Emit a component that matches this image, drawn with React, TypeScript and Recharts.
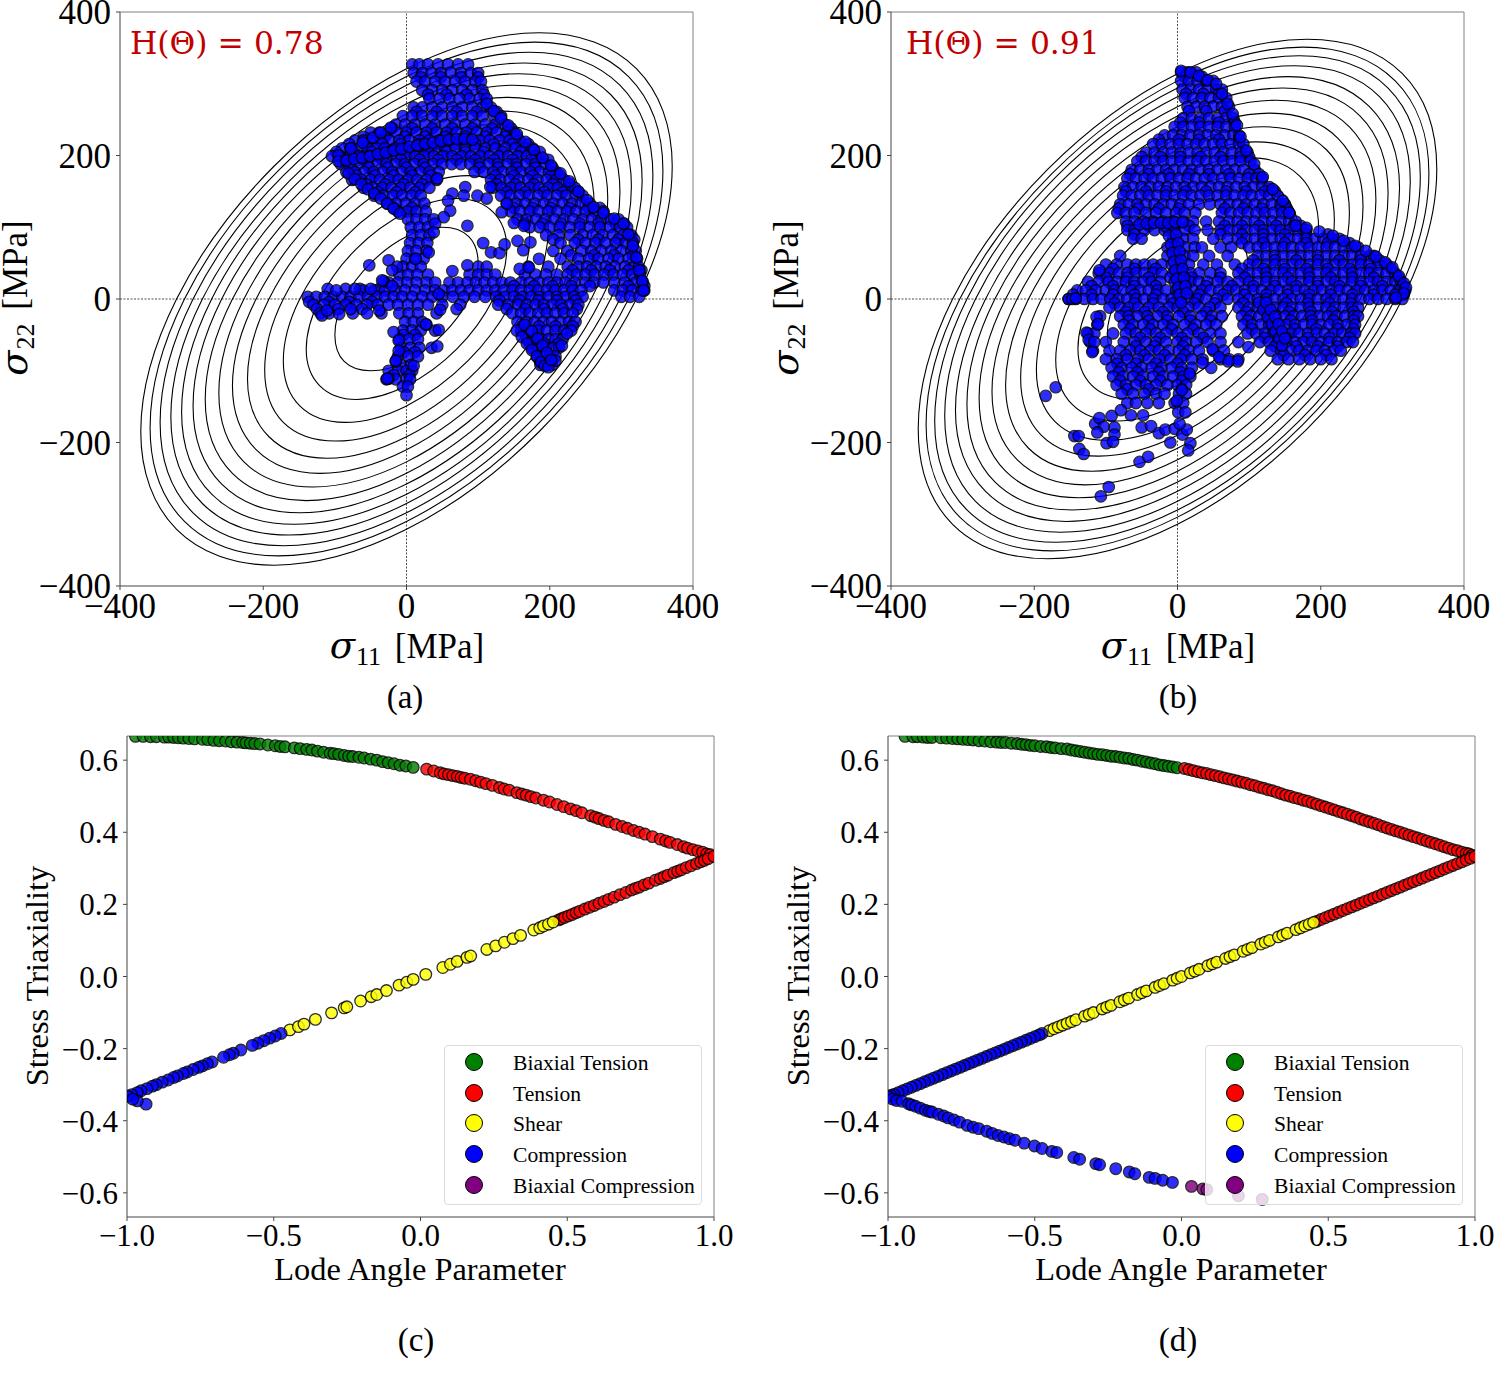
import React from 'react';
import { ComposedChart, Line, Scatter, XAxis, YAxis, ReferenceLine, Legend } from 'recharts';

const SERIF = '"Liberation Serif", serif';
const stressTicks = [-400, -200, 0, 200, 400];
const lodeTicks = [-1, -0.5, 0, 0.5, 1];
const triaxTicks = [-0.6, -0.4, -0.2, 0, 0.2, 0.4, 0.6];
const legendNames = ['Biaxial Tension', 'Tension', 'Shear', 'Compression', 'Biaxial Compression'];
const legendColors = ['#008000', '#ff0000', '#ffff00', '#0000ff', '#800080'];

// yield contours, read as x,y pairs going round each ring
const ringsA = [
  [87,87,100,50,87,0,50,-50,0,-87,-50,-100,-87,-87,-100,-50,-87,0,-50,50,0,87,50,100],
  [121,121,140,70,121,0,70,-70,0,-121,-70,-140,-121,-121,-140,-70,-121,0,-70,70,0,121,70,140],
  [149,149,172,86,149,0,86,-86,0,-149,-86,-172,-149,-149,-172,-86,-149,0,-86,86,0,149,86,172],
  [172,172,198,99,172,0,99,-99,0,-172,-99,-198,-172,-172,-198,-99,-172,0,-99,99,0,172,99,198],
  [192,192,222,111,192,0,111,-111,0,-192,-111,-222,-192,-192,-222,-111,-192,0,-111,111,0,192,111,222],
  [210,210,243,121,210,0,121,-121,0,-210,-121,-243,-210,-210,-243,-121,-210,0,-121,121,0,210,121,243],
  [227,227,262,131,227,0,131,-131,0,-227,-131,-262,-227,-227,-262,-131,-227,0,-131,131,0,227,131,262],
  [243,243,281,140,243,0,140,-140,0,-243,-140,-281,-243,-243,-281,-140,-243,0,-140,140,0,243,140,281],
  [258,258,298,149,258,0,149,-149,0,-258,-149,-298,-258,-258,-298,-149,-258,0,-149,149,0,258,149,298],
  [272,272,314,157,272,0,157,-157,0,-272,-157,-314,-272,-272,-314,-157,-272,0,-157,157,0,272,157,314],
  [285,285,329,164,285,0,164,-164,0,-285,-164,-329,-285,-285,-329,-164,-285,0,-164,164,0,285,164,329],
  [298,298,344,172,298,0,172,-172,0,-298,-172,-344,-298,-298,-344,-172,-298,0,-172,172,0,298,172,344],
  [310,310,358,179,310,0,179,-179,0,-310,-179,-358,-310,-310,-358,-179,-310,0,-179,179,0,310,179,358],
  [321,321,371,185,321,0,185,-185,0,-321,-185,-371,-321,-321,-371,-185,-321,0,-185,185,0,321,185,371],
];
const ringsB = [
  [85,85,98,49,85,0,49,-49,0,-85,-49,-98,-85,-85,-98,-49,-85,0,-49,49,0,85,49,98],
  [120,120,139,69,120,0,69,-69,0,-120,-69,-139,-120,-120,-139,-69,-120,0,-69,69,0,120,69,139],
  [147,147,170,85,147,0,85,-85,0,-147,-85,-170,-147,-147,-170,-85,-147,0,-85,85,0,147,85,170],
  [171,171,197,99,171,0,99,-99,0,-171,-99,-197,-171,-171,-197,-99,-171,0,-99,99,0,171,99,197],
  [190,190,219,110,190,0,110,-110,0,-190,-110,-219,-190,-190,-219,-110,-190,0,-110,110,0,190,110,219],
  [208,208,240,120,208,0,120,-120,0,-208,-120,-240,-208,-208,-240,-120,-208,0,-120,120,0,208,120,240],
  [224,224,259,129,224,0,129,-129,0,-224,-129,-259,-224,-224,-259,-129,-224,0,-129,129,0,224,129,259],
  [240,240,277,138,240,0,138,-138,0,-240,-138,-277,-240,-240,-277,-138,-240,0,-138,138,0,240,138,277],
  [255,255,294,147,255,0,147,-147,0,-255,-147,-294,-255,-255,-294,-147,-255,0,-147,147,0,255,147,294],
  [268,268,310,155,268,0,155,-155,0,-268,-155,-310,-268,-268,-310,-155,-268,0,-155,155,0,268,155,310],
  [282,282,325,163,282,0,163,-163,0,-282,-163,-325,-282,-282,-325,-163,-282,0,-163,163,0,282,163,325],
  [294,294,339,170,294,0,170,-170,0,-294,-170,-339,-294,-294,-339,-170,-294,0,-170,170,0,294,170,339],
  [304,304,351,175,304,0,175,-175,0,-304,-175,-351,-304,-304,-351,-175,-304,0,-175,175,0,304,175,351],
  [314,314,362,181,314,0,181,-181,0,-314,-181,-362,-314,-314,-362,-181,-314,0,-181,181,0,314,181,362],
];

// stress points of (a), kept as [sigma22, [sigma11, ...]] rows
const cloudRowsA: [number, number[]][] = [
  [327, [8,18,30,44,58,72,86]],
  [315, [10,22,35,48,62,76,90,100]],
  [309, [20,48,76,100]],
  [303, [14,26,40,54,68,82,96,104]],
  [291, [22,36,50,64,78,92,106]],
  [285, [30,56,84,108]],
  [279, [32,46,60,74,88,102,112]],
  [267, [10,22,36,50,64,78,92,106,118]],
  [261, [14,42,70,98,126]],
  [255, [-5,8,22,36,50,64,78,92,106,122,132]],
  [243, [-15,-2,12,26,40,54,68,82,96,110,124,138]],
  [238, [-20,8,36,64,92,120,146]],
  [232, [-50,-38,-26,-14,0,14,28,42,56,70,84,98,112,126,140,150]],
  [226, [-60,-30,-2,26,54,82,110,138,154]],
  [221, [-72,-60,-48,-36,-24,-10,4,18,32,46,60,74,88,102,116,130,144,158]],
  [216, [-80,-58,-34,-8,18,44,70,96,122,148,170]],
  [210, [-90,-78,-66,-54,-42,-30,-16,-2,12,26,40,54,68,82,96,110,124,138,152,166,176]],
  [205, [-98,-74,-48,-22,4,30,56,82,108,134,160,186]],
  [199, [-104,-92,-79,-66,-53,-40,-27,-14,-1,12,25,38,51,64,77,90,103,116,129,142,155,168,181]],
  [194, [-86,-60,-34,-8,18,44,70,96,122,148,174,198]],
  [188, [-92,-80,-67,-54,-41,-28,-15,-2,11,24,37,50,63,76,89,102,115,128,141,154,167,180,193]],
  [183, [-78,-52,-26,0,26,102,128,154,180,204]],
  [177, [-84,-72,-59,-46,-33,-20,-7,6,19,32,45,95,108,121,134,147,160,173,186,199,209]],
  [172, [-70,-44,-18,8,34,124,150,176,202,214]],
  [166, [-76,-63,-50,-37,-24,-11,2,15,28,42,118,131,144,157,170,183,196,209,220]],
  [160, [-56,-30,-4,22,126,152,178,204,228]],
  [155, [-60,-47,-34,-21,-8,5,18,32,120,133,146,159,172,185,198,211,224,235]],
  [149, [-40,-14,12,140,166,192,218,240]],
  [144, [-45,-32,-19,-6,7,20,132,145,158,171,184,197,210,223,236,246]],
  [133, [-27,-14,-1,12,25,140,153,166,179,192,205,218,231,244,256]],
  [127, [-18,8,150,176,202,228,254,270]],
  [122, [-12,1,14,27,146,159,172,185,198,211,224,237,250,263,275]],
  [111, [2,14,26,38,155,168,181,194,207,220,233,246,259,272,285,296]],
  [105, [165,190,216,242,268,292,304]],
  [100, [6,18,30,172,186,200,214,228,242,256,270,284,298,308]],
  [89, [8,20,32,195,212,229,246,260,274,288,302,314]],
  [83, [205,240,268,296,318]],
  [78, [5,17,29,215,235,250,264,278,292,306,316]],
  [67, [2,14,28,205,225,245,258,272,286,300,314,320]],
  [61, [230,262,290,316]],
  [56, [0,12,24,185,215,240,255,268,282,296,310,322]],
  [45, [-5,8,20,100,112,170,198,225,240,252,265,278,291,305,318,324]],
  [40, [232,258,284,310,328]],
  [34, [-10,2,15,30,88,100,112,124,165,180,195,210,225,238,250,263,276,289,302,315,326]],
  [23, [-25,-12,1,14,28,40,60,72,85,97,109,121,133,145,160,172,185,198,210,222,235,250,262,275,290,305,320,330]],
  [18, [150,178,204,230,256,310,332]],
  [14, [-110,-85,-65,-38]],
  [12, [-60,-45,-30,-15,-2,12,26,40,52,64,76,88,100,112,124,136,148,160,172,184,196,208,220,232,244,290,302,315,328,332]],
  [3, [-138,-126,-114,-102,-90,-78,-66,-54,-42,-30,-18,-6,8,22,36,50,65,80,95,110,125,138,150,162,174,186,198,210,222,234,246,300,312,325]],
  [-2, [130,158,184,210,236]],
  [-4, [-136,-108,-80,-48]],
  [-8, [-130,-115,-100,-85,-70,-55,-40,-25,-12,2,16,30,50,75,128,142,156,168,180,192,204,216,228,240]],
  [-14, [-125,-95,-62,140,166,192,218,238]],
  [-20, [-120,-108,-75,-55,-35,-10,3,16,42,148,160,172,184,196,208,220,232]],
  [-32, [-2,10,22,155,167,179,191,203,215,227,236]],
  [-38, [162,185,208,232]],
  [-44, [-5,8,20,40,160,172,184,196,208,220,230]],
  [-50, [-4,12]],
  [-56, [-10,4,16,168,178,188,198,208,218]],
  [-62, [172,192,212]],
  [-68, [-8,5,18,175,185,195,205,213]],
  [-74, [-4,12]],
  [-80, [-12,3,16,182,192,200,208]],
  [-86, [186,200]],
  [-92, [-8,6,187,196,203]],
  [-100, [-25,-12,0,8]],
  [-106, [-18,4]],
  [-112, [-28,-15,0,5]],
  [-122, [-5,2]],
  [-134, [0]],
];
const looseA = [43,168,82,156,64,147,80,144,99,144,112,140,117,156,133,121,140,133,58,137,61,123,52,114,85,102,40,105,38,93,107,78,118,65,130,64,137,76,150,106,164,102,155,81,163,68,173,79,158,42,171,44,64,39,85,47,31,65,13,56,-52,47,-25,54,-13,45,-20,40,-32,25,45,7,47,-15,70,-14,28,-36,45,-43,35,-68,43,-66,-25,-111,-15,-87,-118,-23,-111,-16,-94,-21,-78,-14,-38,-16,-18,-46,-11,-58,-11,-72,-15,-86,-27,-111,10,-93,27,-35,-98,12,-72,14,-50,14,-34,26,-20,18];
// tightly packed chains along the edges and dark seams of (a)
const seamsA = [-95,200,-78,210,-61,218,-47,225,-36,232,-22,239,-81,175,-72,167,-63,160,-54,153,-45,147,-36,140,-27,133,-18,126,-9,119,-95,192,-84,193,-73,195,-62,197,-51,199,-40,202,-29,204,-18,207,-7,209,4,212,15,214,26,216,37,218,48,220,59,222,70,223,81,223,92,222,154,-44,161,-53,168,-62,175,-71,182,-80,188,-88,193,-93,198,-95,224,-48,217,-65,208,-86,165,-36,175,-45,183,-55,190,-65,196,-75,202,-85,112,272,122,262,132,252,142,242,154,230,166,219,178,208,190,197,202,186,215,175,227,164,240,150,252,138,261,128,275,120,290,112,303,105,310,90,316,74,321,58,325,40,329,25,331,12];

// stress points of (b)
const cloudRowsB: [number, number[]][] = [
  [316, [5,14,26]],
  [310, [10,34]],
  [304, [5,16,28,40,50]],
  [292, [7,18,30,42,54,62]],
  [286, [12,36,58]],
  [280, [10,22,34,46,58,68]],
  [268, [14,26,38,50,62,72]],
  [262, [16,40,66]],
  [252, [8,20,32,44,56,68,78]],
  [246, [4,30,58,80]],
  [240, [-4,8,20,32,44,56,68,80]],
  [228, [-18,-6,6,18,30,42,54,66,78,86]],
  [222, [-26,2,30,58,86]],
  [216, [-34,-22,-10,2,14,26,38,50,62,74,86,92]],
  [204, [-44,-32,-20,-8,4,16,28,40,52,64,76,88,98]],
  [198, [-50,-24,4,32,60,88,100]],
  [192, [-56,-44,-32,-20,-8,4,16,28,40,52,64,76,88,102]],
  [180, [-64,-52,-40,-28,-16,-4,8,20,32,44,56,68,80,92,108]],
  [174, [-66,-40,-12,16,44,72,100,114]],
  [168, [-70,-58,-46,-34,-22,-10,2,14,26,38,50,62,74,86,98,110,118]],
  [156, [-74,-62,-50,-38,-26,-14,-2,10,22,34,46,58,70,82,94,106,118,128]],
  [150, [-72,-44,-16,12,40,68,96,122,136]],
  [144, [-76,-64,-52,-40,-28,-16,-4,8,20,32,44,56,68,80,92,104,116,128,140]],
  [132, [-80,-68,-56,-44,-32,-20,-8,4,16,30,45,60,72,84,96,108,120,132,144,150]],
  [126, [-82,-54,-26,2,66,92,118,144,152]],
  [120, [-84,-72,-60,-44,-30,-16,-2,10,25,62,74,86,98,110,122,134,146,156]],
  [108, [-72,-60,-48,-34,-20,-6,8,22,40,58,72,84,96,108,120,132,144,156,165]],
  [102, [-70,-40,-10,16,66,90,114,138,162,172]],
  [96, [-70,-60,-46,-32,-18,-4,10,24,42,60,72,84,96,108,120,132,144,156,168,180]],
  [90, [-60,60,90,120,150,180,210]],
  [84, [-62,-50,-6,8,22,50,70,84,96,108,120,132,144,156,168,180,192,204,216,226]],
  [78, [90,120,150,180,210,240]],
  [72, [-14,-2,10,24,34,60,75,100,112,124,136,148,160,172,184,196,208,220,232,244,252]],
  [60, [-80,-14,-2,10,22,44,70,112,124,136,148,160,172,184,196,208,220,232,244,256,268,274]],
  [54, [106,136,166,196,226,256,282]],
  [48, [-100,-85,-70,-58,-46,-34,-22,-8,4,16,36,55,80,100,112,124,136,148,160,172,184,196,208,220,232,244,256,268,280,292]],
  [42, [-90,-60,-30,0,90,120,150,180,210,240,270,298]],
  [36, [-110,-95,-82,-70,-58,-46,-34,-22,-6,6,18,30,46,60,85,100,112,124,136,148,160,172,184,196,208,220,232,244,256,268,280,292,304]],
  [30, [-100,-70,-40,-10,20,60,94,124,154,184,214,244,274,308]],
  [24, [-125,-110,-96,-84,-72,-60,-48,-36,-24,-4,6,18,30,42,56,70,85,100,112,124,136,148,160,172,184,196,208,220,232,244,256,268,280,292,304,312]],
  [18, [-120,-90,-60,-30,10,40,76,106,136,166,196,226,256,286,314]],
  [12, [-140,-128,-114,-100,-88,-76,-64,-52,-40,-28,-16,-2,10,22,34,46,58,70,82,94,106,118,130,142,154,166,178,190,202,214,226,238,250,262,274,286,298,310,318]],
  [6, [-146,-120,-90,-60,-30,0,30,64,94,124,154,184,214,244,274,304,316]],
  [0, [-152,-142,-130,-118,-106,-94,-82,-70,-58,-46,-34,-20,-8,4,16,28,40,55,70,85,100,112,124,136,148,160,172,184,196,208,220,232,244,256,268,280,292,304,314]],
  [-6, [-88,-60,-34,-6,24,52,92,122,152,182,212,242]],
  [-12, [-95,-80,-68,-55,-40,-26,-12,0,15,30,45,60,85,100,112,124,136,148,160,172,184,196,208,220,232,244,252]],
  [-18, [-72,-46,-20,8,40,96,126,156,186,216,246]],
  [-24, [-108,-80,-68,-56,-42,-28,-14,2,18,34,48,62,90,102,114,126,138,150,162,174,186,198,210,222,234,246,252]],
  [-30, [-68,-40,-14,18,46,98,128,158,188,218,246]],
  [-36, [-112,-75,-62,-48,-34,-20,-6,10,26,40,54,92,104,116,128,140,152,164,176,188,200,212,224,236,248]],
  [-42, [-66,-38,-8,22,104,134,164,194,224,246]],
  [-48, [-125,-116,-90,-72,-58,-44,-30,-16,0,14,30,46,60,98,110,122,134,146,158,170,182,194,206,218,230,242,248]],
  [-54, [-52,-24,6,36,122,152,182,212,240]],
  [-60, [-122,-100,-75,-60,-44,-30,-16,0,12,26,42,60,85,115,128,140,152,164,176,188,200,212,224,236,245]],
  [-66, [-58,-32,8,136,166,196,224]],
  [-72, [-118,-95,-80,-66,-52,-38,-26,-12,2,16,30,50,65,130,145,158,170,182,194,206,218,228]],
  [-78, [-72,-46,-18,10,148,178,208]],
  [-84, [-100,-85,-70,-55,-40,-25,-10,5,20,35,60,72,85,140,155,170,185,200,215]],
  [-90, [-84,-58,-30,0]],
  [-96, [-92,-78,-64,-50,-36,-22,-8,6,20]],
  [-102, [-82,-56,-26,4]],
  [-108, [-90,-76,-62,-48,-34,-20,-6,8,18]],
  [-114, [-80,-52,-24,6]],
  [-120, [-85,-72,-58,-44,-30,-14,0,12]],
  [-126, [-70,-40,6]],
  [-132, [-78,-62,-46,-30,-18,2,12]],
  [-145, [-70,-58,-42,-26,-4,8]],
];
const looseB = [-109,40,-113,-25,-111,-35,-127,-47,-124,-57,-116,-60,-119,-74,-170,-123,-184,-135,-115,-174,-109,-166,-103,-178,-144,-191,-138,-191,-137,-209,-131,-216,-112,-186,-92,-163,-88,-179,-88,-189,-99,-201,-90,-199,-53,-227,-41,-220,-96,-262,-107,-275,-79,-155,-65,-162,-48,-162,-50,-179,-37,-177,-26,-187,-17,-182,-4,-181,7,-189,13,-182,-10,-200,18,-201,15,-211,3,-174,1,-158,11,-158,-1,-142,6,-127,17,-104,47,-96,84,-87,71,-87,35,-89,49,-70,58,-81,99,-67];
const seamsB = [5,318,18,316,30,311,42,305,54,300,62,286,70,272,77,258,83,242,88,226,96,207,107,188,119,170,133,153,147,137,156,120,165,102,180,99,198,94,217,88,232,81,248,74,263,67,277,59,290,51,300,44,309,32,316,22,319,16,316,8,305,2,-15,100,-12,88,-9,76,-7,64,-5,52,-3,40,-1,28,1,16,3,6,5,-5,-5,102,-2,90,1,78,3,66,5,54,7,42,9,30,11,18,13,8,-53,104,-43,105,-33,106,-23,106,-13,106,-3,107,7,107,114,-5,120,-15,126,-25,132,-35,137,-45,142,-55,146,-65,124,-5,130,-15,136,-25,141,-35,146,-45,150,-55,-152,0,-147,0,-142,1];

// lode angle parameter / triaxiality pairs of (c)
const biaxTensionC = [-0.971,0.666,-0.945,0.666,-0.92,0.665,-0.9,0.665,-0.873,0.664,-0.858,0.664,-0.841,0.663,-0.825,0.662,-0.808,0.661,-0.789,0.66,-0.77,0.659,-0.743,0.658,-0.725,0.657,-0.704,0.655,-0.685,0.654,-0.664,0.653,-0.645,0.651,-0.625,0.65,-0.606,0.649,-0.595,0.648,-0.58,0.647,-0.565,0.646,-0.547,0.645,-0.52,0.642,-0.495,0.64,-0.478,0.638,-0.462,0.637,-0.43,0.634,-0.41,0.632,-0.388,0.63,-0.37,0.628,-0.351,0.625,-0.33,0.622,-0.308,0.619,-0.295,0.618,-0.279,0.616,-0.26,0.613,-0.245,0.611,-0.231,0.61,-0.21,0.608,-0.192,0.606,-0.17,0.603,-0.149,0.6,-0.129,0.596,-0.11,0.593,-0.09,0.59,-0.07,0.586,-0.05,0.584,-0.025,0.58];
const tensionC = [0.021,0.575,0.045,0.57,0.067,0.565,0.08,0.562,0.095,0.56,0.11,0.557,0.125,0.555,0.138,0.552,0.151,0.55,0.17,0.547,0.188,0.543,0.205,0.539,0.223,0.535,0.245,0.53,0.269,0.524,0.285,0.52,0.302,0.517,0.328,0.51,0.345,0.506,0.36,0.503,0.376,0.499,0.393,0.495,0.419,0.489,0.44,0.484,0.465,0.477,0.488,0.471,0.511,0.465,0.53,0.46,0.55,0.454,0.58,0.446,0.595,0.442,0.608,0.438,0.625,0.433,0.641,0.429,0.665,0.422,0.687,0.416,0.705,0.411,0.726,0.405,0.745,0.4,0.765,0.395,0.79,0.388,0.817,0.381,0.835,0.376,0.85,0.372,0.875,0.366,0.896,0.36,0.91,0.356,0.928,0.352,0.945,0.348,0.961,0.345,0.975,0.34,0.987,0.338,0.471,0.157,0.48,0.16,0.491,0.164,0.504,0.168,0.517,0.172,0.53,0.177,0.543,0.181,0.56,0.187,0.576,0.192,0.592,0.197,0.608,0.203,0.625,0.208,0.641,0.214,0.66,0.22,0.68,0.227,0.7,0.233,0.719,0.24,0.732,0.244,0.745,0.248,0.762,0.254,0.778,0.259,0.8,0.267,0.817,0.272,0.83,0.277,0.843,0.281,0.863,0.288,0.876,0.292,0.889,0.296,0.905,0.302,0.922,0.307,0.94,0.313,0.954,0.318,0.967,0.322,0.98,0.327,1,0.333];
const shearC = [-0.445,-0.148,-0.416,-0.139,-0.397,-0.132,-0.358,-0.119,-0.303,-0.101,-0.26,-0.087,-0.251,-0.084,-0.204,-0.068,-0.168,-0.056,-0.149,-0.05,-0.116,-0.039,-0.073,-0.024,-0.047,-0.016,-0.025,-0.008,0.018,0.006,0.076,0.025,0.102,0.034,0.125,0.042,0.158,0.053,0.171,0.057,0.226,0.075,0.256,0.085,0.286,0.095,0.315,0.105,0.341,0.114,0.386,0.129,0.406,0.135,0.419,0.14,0.436,0.145,0.452,0.151];
const compressionC = [-0.475,-0.158,-0.495,-0.165,-0.514,-0.171,-0.534,-0.178,-0.554,-0.185,-0.573,-0.191,-0.612,-0.204,-0.638,-0.213,-0.651,-0.217,-0.671,-0.224,-0.71,-0.237,-0.726,-0.242,-0.743,-0.248,-0.756,-0.252,-0.775,-0.258,-0.795,-0.265,-0.808,-0.269,-0.828,-0.276,-0.841,-0.28,-0.86,-0.287,-0.88,-0.293,-0.9,-0.3,-0.913,-0.304,-0.932,-0.311,-0.952,-0.317,-0.965,-0.322,-0.984,-0.328,-0.997,-0.332,-0.935,-0.354,-0.965,-0.345,-0.98,-0.34];

// pairs of (d)
const biaxTensionD = [-0.942,0.666,-0.915,0.665,-0.9,0.665,-0.88,0.664,-0.865,0.663,-0.85,0.663,-0.82,0.662,-0.8,0.661,-0.78,0.66,-0.762,0.659,-0.745,0.658,-0.727,0.657,-0.71,0.656,-0.69,0.654,-0.67,0.653,-0.65,0.651,-0.63,0.65,-0.615,0.649,-0.6,0.649,-0.58,0.647,-0.56,0.646,-0.545,0.644,-0.53,0.643,-0.515,0.641,-0.5,0.64,-0.48,0.638,-0.46,0.637,-0.445,0.635,-0.43,0.634,-0.41,0.632,-0.39,0.631,-0.375,0.628,-0.36,0.626,-0.345,0.624,-0.33,0.622,-0.315,0.62,-0.3,0.618,-0.285,0.616,-0.27,0.615,-0.255,0.613,-0.24,0.611,-0.225,0.61,-0.21,0.608,-0.195,0.606,-0.18,0.605,-0.165,0.602,-0.15,0.6,-0.135,0.597,-0.12,0.595,-0.105,0.592,-0.09,0.59,-0.075,0.587,-0.06,0.585,-0.045,0.583,-0.03,0.581,-0.015,0.579];
const tensionD = [0.01,0.577,0.025,0.574,0.04,0.571,0.055,0.568,0.07,0.565,0.085,0.563,0.1,0.56,0.115,0.557,0.13,0.554,0.145,0.551,0.16,0.548,0.175,0.545,0.19,0.542,0.205,0.539,0.22,0.536,0.235,0.532,0.25,0.529,0.265,0.525,0.28,0.522,0.295,0.518,0.31,0.515,0.325,0.511,0.34,0.507,0.355,0.503,0.37,0.5,0.385,0.496,0.4,0.493,0.415,0.489,0.43,0.486,0.445,0.482,0.46,0.478,0.475,0.474,0.49,0.47,0.505,0.466,0.52,0.462,0.535,0.458,0.55,0.454,0.565,0.45,0.58,0.446,0.595,0.442,0.61,0.437,0.625,0.433,0.64,0.429,0.655,0.425,0.67,0.421,0.685,0.416,0.7,0.412,0.715,0.408,0.73,0.404,0.745,0.4,0.76,0.396,0.775,0.392,0.79,0.388,0.805,0.384,0.82,0.38,0.835,0.376,0.85,0.372,0.865,0.368,0.88,0.364,0.895,0.36,0.91,0.356,0.925,0.352,0.94,0.349,0.955,0.345,0.97,0.342,0.98,0.34,0.99,0.336,0.46,0.153,0.475,0.158,0.49,0.163,0.505,0.168,0.52,0.173,0.535,0.178,0.55,0.183,0.565,0.188,0.58,0.193,0.595,0.198,0.61,0.203,0.625,0.208,0.64,0.213,0.655,0.218,0.67,0.223,0.685,0.228,0.7,0.233,0.715,0.238,0.73,0.243,0.745,0.248,0.76,0.253,0.775,0.258,0.79,0.263,0.805,0.268,0.82,0.273,0.835,0.278,0.85,0.283,0.865,0.288,0.88,0.293,0.895,0.298,0.91,0.303,0.925,0.308,0.94,0.313,0.955,0.318,0.97,0.323,0.985,0.328,1,0.333];
const shearD = [-0.45,-0.15,-0.435,-0.145,-0.42,-0.14,-0.405,-0.135,-0.39,-0.13,-0.375,-0.125,-0.36,-0.12,-0.33,-0.11,-0.315,-0.105,-0.3,-0.1,-0.27,-0.09,-0.255,-0.085,-0.24,-0.08,-0.21,-0.07,-0.195,-0.065,-0.18,-0.06,-0.15,-0.05,-0.135,-0.045,-0.12,-0.04,-0.09,-0.03,-0.075,-0.025,-0.06,-0.02,-0.03,-0.01,-0.015,-0.005,0,0,0.03,0.01,0.045,0.015,0.06,0.02,0.09,0.03,0.105,0.035,0.12,0.04,0.15,0.05,0.165,0.055,0.18,0.06,0.21,0.07,0.225,0.075,0.24,0.08,0.27,0.09,0.285,0.095,0.3,0.1,0.33,0.11,0.345,0.115,0.36,0.12,0.39,0.13,0.405,0.135,0.42,0.14,0.435,0.145,0.45,0.15];
const compressionD = [-0.475,-0.158,-0.485,-0.162,-0.5,-0.167,-0.515,-0.172,-0.53,-0.177,-0.545,-0.182,-0.56,-0.187,-0.575,-0.192,-0.59,-0.197,-0.605,-0.202,-0.62,-0.207,-0.635,-0.212,-0.65,-0.217,-0.665,-0.222,-0.68,-0.227,-0.695,-0.232,-0.71,-0.237,-0.725,-0.242,-0.74,-0.247,-0.755,-0.252,-0.77,-0.257,-0.785,-0.262,-0.8,-0.267,-0.815,-0.272,-0.83,-0.277,-0.845,-0.282,-0.86,-0.287,-0.875,-0.292,-0.89,-0.297,-0.905,-0.302,-0.92,-0.307,-0.935,-0.312,-0.95,-0.317,-0.965,-0.322,-0.98,-0.327,-0.99,-0.33,-1,-0.333,-0.985,-0.34,-0.971,-0.344,-0.952,-0.346,-0.93,-0.353,-0.92,-0.356,-0.906,-0.36,-0.89,-0.365,-0.873,-0.371,-0.86,-0.374,-0.85,-0.376,-0.828,-0.382,-0.81,-0.387,-0.795,-0.392,-0.775,-0.398,-0.756,-0.404,-0.73,-0.413,-0.71,-0.418,-0.691,-0.422,-0.664,-0.429,-0.645,-0.435,-0.625,-0.441,-0.605,-0.445,-0.586,-0.45,-0.567,-0.454,-0.536,-0.462,-0.501,-0.47,-0.475,-0.477,-0.442,-0.485,-0.425,-0.488,-0.367,-0.502,-0.347,-0.507,-0.292,-0.519,-0.279,-0.522,-0.224,-0.533,-0.178,-0.542,-0.159,-0.547,-0.11,-0.557,-0.09,-0.56,-0.064,-0.565,-0.031,-0.571];
const biaxCompressionD = [0.034,-0.582,0.073,-0.589,0.086,-0.591,0.194,-0.608,0.275,-0.618];

const pairs = (flat: number[]) => {
  const out: { x: number; y: number }[] = [];
  for (let i = 0; i < flat.length; i += 2) out.push({ x: flat[i], y: flat[i + 1] });
  return out;
};
const rowsToPoints = (rows: [number, number[]][]) =>
  rows.flatMap(([y, xs]) => xs.map((x) => ({ x, y })));
const signed = (v: number, digits: number) => {
  const s = Math.abs(v).toFixed(digits);
  return v < 0 ? '\u2212' + s : s;
};

// periodic smooth curve, the built in ones all leave a kink where a ring closes
const closedRing = (ctx: any) => {
  let pts: number[][] = [];
  return {
    areaStart() {},
    areaEnd() {},
    lineStart() {
      pts = [];
    },
    point(x: number, y: number) {
      pts.push([+x, +y]);
    },
    lineEnd() {
      const n = pts.length;
      const k = 1.047 / 6;
      ctx.moveTo(pts[0][0], pts[0][1]);
      for (let i = 0; i < n; i++) {
        const a = pts[(i + n - 1) % n];
        const b = pts[i];
        const c = pts[(i + 1) % n];
        const d = pts[(i + 2) % n];
        ctx.bezierCurveTo(
          b[0] + (c[0] - a[0]) * k,
          b[1] + (c[1] - a[1]) * k,
          c[0] - (d[0] - b[0]) * k,
          c[1] - (d[1] - b[1]) * k,
          c[0],
          c[1],
        );
      }
      ctx.closePath();
    },
  };
};

const makeDot = (fill: string, r: number) => (p: any) => (
  <circle cx={p.cx} cy={p.cy} r={r} fill={fill} stroke="#000" strokeWidth={1.3} opacity={0.82} />
);

function SigmaLabel({ sub, rotate }: { sub: string; rotate?: boolean }) {
  const pos = rotate ? { x: 27, y: 298 } : { x: 407, y: 658 };
  return (
    <text
      x={pos.x}
      y={pos.y}
      textAnchor="middle"
      fontFamily={SERIF}
      fontSize={35}
      fill="#000"
      transform={rotate ? `rotate(-90 ${pos.x} ${pos.y})` : undefined}
    >
      <tspan fontFamily='"DejaVu Serif", serif' fontStyle="italic" fontSize={37}>σ</tspan>
      <tspan fontSize={26} dx={1} dy={7}>{sub}</tspan>
      <tspan dx={5} dy={-7}> [MPa]</tspan>
    </text>
  );
}

function StressPanel({ left, rings, rows, loose, seams, score }: any) {
  const points = [...rowsToPoints(rows), ...pairs(loose), ...pairs(seams)];
  const tick = { fontFamily: SERIF, fontSize: 35, fill: '#000' };
  return (
    <div style={{ position: 'absolute', left, top: 0 }}>
      <ComposedChart width={730} height={680} margin={{ top: 12, right: 37, bottom: 0, left: 0 }}>
        <XAxis
          type="number"
          dataKey="x"
          domain={[-400, 400]}
          ticks={stressTicks}
          interval={0}
          height={94}
          tick={tick}
          tickSize={4}
          tickMargin={3}
          stroke="#444"
          tickFormatter={(v: number) => signed(v, 0)}
          label={{ content: () => <SigmaLabel sub="11" /> }}
        />
        <YAxis
          type="number"
          dataKey="y"
          domain={[-400, 400]}
          ticks={stressTicks}
          interval={0}
          width={120}
          tick={tick}
          tickSize={4}
          tickMargin={5}
          stroke="#444"
          tickFormatter={(v: number) => signed(v, 0)}
          label={{ content: () => <SigmaLabel sub="22" rotate /> }}
        />
        <ReferenceLine y={400} stroke="#808080" />
        <ReferenceLine x={400} stroke="#808080" />
        <ReferenceLine x={0} stroke="#000" strokeWidth={0.7} strokeDasharray="2 1.5" />
        <ReferenceLine y={0} stroke="#000" strokeWidth={0.7} strokeDasharray="2 1.5" />
        {rings.map((ring: number[], i: number) => (
          <Line
            key={i}
            data={pairs(ring)}
            dataKey="y"
            type={closedRing as any}
            dot={false}
            activeDot={false}
            stroke="#000"
            strokeWidth={1.1}
            legendType="none"
            isAnimationActive={false}
          />
        ))}
        <Scatter data={points} dataKey="y" shape={makeDot('#0000ff', 5.7)} isAnimationActive={false} />
      </ComposedChart>
      <div
        style={{
          position: 'absolute',
          left: 130 + (score === '0.91' ? 5 : 0),
          top: 23,
          color: '#c00000',
          fontFamily: '"DejaVu Serif", serif',
          fontSize: 31.4,
          lineHeight: '40px',
          whiteSpace: 'nowrap',
        }}
      >
        H(Θ) = {score}
      </div>
    </div>
  );
}

function TriaxLegend() {
  return (
    <div
      style={{
        position: 'relative',
        width: 258,
        height: 160,
        boxSizing: 'border-box',
        background: 'rgba(255,255,255,0.8)',
        border: '1px solid #dcdcdc',
        borderRadius: 4,
        fontFamily: SERIF,
        fontSize: 21.6,
        color: '#000',
      }}
    >
      {legendNames.map((name, i) => (
        <div key={name} style={{ position: 'absolute', left: 0, top: 2 + i * 30.7, height: 30, width: 258 }}>
          <span
            style={{
              position: 'absolute',
              left: 20,
              top: 5,
              width: 16,
              height: 16,
              borderRadius: '50%',
              background: legendColors[i],
              border: '1px solid #000',
            }}
          />
          <span style={{ position: 'absolute', left: 68, top: 1, lineHeight: '28px', whiteSpace: 'nowrap' }}>{name}</span>
        </div>
      ))}
    </div>
  );
}

function TriaxPanel({ left, series }: { left: number; series: number[][] }) {
  const tick = { fontFamily: SERIF, fontSize: 31, fill: '#000' };
  return (
    <div style={{ position: 'absolute', left, top: 724 }}>
      <ComposedChart width={740} height={575} margin={{ top: 12, right: 26, bottom: 0, left: 0 }}>
        <XAxis
          type="number"
          dataKey="x"
          domain={[-1, 1]}
          ticks={lodeTicks}
          interval={0}
          height={82}
          tick={tick}
          tickSize={4}
          tickMargin={3}
          stroke="#444"
          allowDataOverflow
          tickFormatter={(v: number) => signed(v, 1)}
          label={{
            content: () => (
              <text x={420} y={556} textAnchor="middle" fontFamily={SERIF} fontSize={32.4} fill="#000">
                Lode Angle Parameter
              </text>
            ),
          }}
        />
        <YAxis
          type="number"
          dataKey="y"
          domain={[-0.667, 0.667]}
          ticks={triaxTicks}
          interval={0}
          width={127}
          tick={tick}
          tickSize={4}
          tickMargin={5}
          stroke="#444"
          allowDataOverflow
          tickFormatter={(v: number) => signed(v, 1)}
          label={{
            content: () => (
              <text
                x={48}
                y={252}
                textAnchor="middle"
                fontFamily={SERIF}
                fontSize={32.4}
                fill="#000"
                transform="rotate(-90 48 252)"
              >
                Stress Triaxiality
              </text>
            ),
          }}
        />
        <ReferenceLine y={0.667} stroke="#808080" />
        <ReferenceLine x={1} stroke="#808080" />
        {series.map((flat, i) => (
          <Scatter
            key={legendNames[i]}
            name={legendNames[i]}
            data={pairs(flat)}
            dataKey="y"
            shape={makeDot(legendColors[i], 5.8)}
            isAnimationActive={false}
          />
        ))}
        <Legend
          layout="vertical"
          align="center"
          verticalAlign="middle"
          wrapperStyle={{ left: 444, top: 321, width: 258, height: 160 }}
          content={() => <TriaxLegend />}
        />
      </ComposedChart>
    </div>
  );
}

const Caption = ({ x, y, text }: { x: number; y: number; text: string }) => (
  <div
    style={{
      position: 'absolute',
      left: x - 40,
      top: y - 22,
      width: 80,
      textAlign: 'center',
      fontFamily: SERIF,
      fontSize: 33,
      lineHeight: '44px',
    }}
  >
    {text}
  </div>
);

export default function App() {
  return (
    <div style={{ position: 'absolute', left: 0, top: 0, width: 1495, height: 1381, background: '#fff', overflow: 'hidden' }}>
      <StressPanel left={0} rings={ringsA} rows={cloudRowsA} loose={looseA} seams={seamsA} score="0.78" />
      <StressPanel left={771} rings={ringsB} rows={cloudRowsB} loose={looseB} seams={seamsB} score="0.91" />
      <TriaxPanel left={0} series={[biaxTensionC, tensionC, shearC, compressionC, []]} />
      <TriaxPanel left={761} series={[biaxTensionD, tensionD, shearD, compressionD, biaxCompressionD]} />
      <Caption x={405} y={697} text="(a)" />
      <Caption x={1178} y={697} text="(b)" />
      <Caption x={416} y={1340} text="(c)" />
      <Caption x={1178} y={1340} text="(d)" />
    </div>
  );
}
